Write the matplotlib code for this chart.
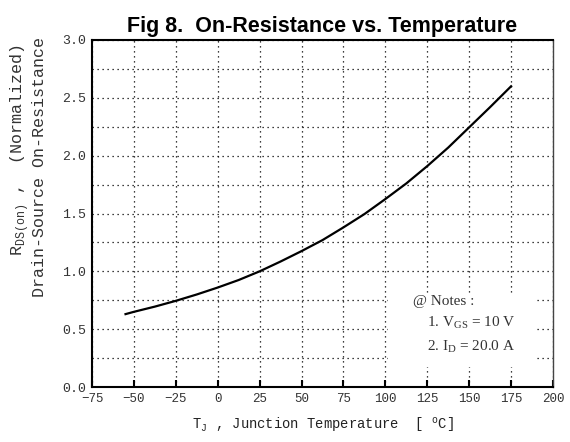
import matplotlib.pyplot as plt
from matplotlib.patches import Rectangle

# Junction temperature (C) and normalized on-resistance
temp = [-55, -50, -37.5, -25, -12.5, 0, 12.5, 25, 37.5, 50, 62.5, 75,
        87.5, 100, 112.5, 125, 137.5, 150, 162.5, 175]
rds = [0.63, 0.65, 0.695, 0.745, 0.80, 0.86, 0.925, 1.0, 1.085, 1.175, 1.27, 1.38,
       1.495, 1.625, 1.76, 1.91, 2.07, 2.245, 2.42, 2.60]

x_ticks = [-75, -50, -25, 0, 25, 50, 75, 100, 125, 150, 175, 200]
y_ticks = [0.0, 0.5, 1.0, 1.5, 2.0, 2.5, 3.0]
y_grid = [0.25, 0.75, 1.25, 1.75, 2.25, 2.75]

mono = "Liberation Mono"
serif = "Liberation Serif"

fig = plt.figure(figsize=(5.70, 4.42), dpi=100)
ax = fig.add_axes([92 / 570, 1 - 387 / 442, 461 / 570, 347 / 442])

ax.plot(temp, rds, color="black", linewidth=1.6, zorder=3)

ax.set_xlim(-75, 200)
ax.set_ylim(0, 3.0)
ax.set_xticks(x_ticks)
ax.set_yticks(y_ticks)
ax.set_yticks(y_grid, minor=True)
ax.grid(True, which="both", color="black", linestyle=(0, (1, 3)), linewidth=0.9)
ax.tick_params(axis="x", direction="in", length=5, width=1.5, labelsize=9, pad=4)
ax.tick_params(axis="y", which="both", length=0, labelsize=9.5, pad=4)
for lab in ax.get_xticklabels() + ax.get_yticklabels():
    lab.set_fontfamily(mono)
    lab.set_color("#333333")
for side in ["left", "bottom", "top"]:
    ax.spines[side].set_linewidth(1.5)
ax.spines["right"].set_linewidth(1.0)
ax.spines["right"].set_color("#444444")

ax.set_title("Fig 8.  On-Resistance vs. Temperature", fontsize=15.5, fontweight="bold",
             fontfamily="Liberation Sans", pad=6)
ax.set_xlabel(r"T$_\mathregular{J}$ , Junction Temperature  [ $^\mathregular{o}$C]",
              fontsize=10, fontfamily=mono, color="#222222", labelpad=8)

# y label: two lines, not centred on the axes in the original
ylab_kw = dict(transform=ax.transAxes, rotation=90, ha="center", va="center",
               fontsize=12, fontfamily=mono, color="#333333")
ax.text(-0.158, 0.683, "R$_\\mathregular{DS(on)}$ ,  (Normalized)", **ylab_kw)
ax.text(-0.114, 0.634, "Drain-Source On-Resistance", **ylab_kw)

# white patch behind the notes hides the grid there
ax.add_patch(Rectangle((101.6, 0.173), 89, 0.64, facecolor="white",
                       edgecolor="none", zorder=2))
note_kw = dict(fontsize=11, fontfamily=serif, color="#333333", va="center",
               ha="left", zorder=4)
ax.text(116.5, 0.735, "@ Notes :", **note_kw)
ax.text(124.8, 0.56, "1. V$_\\mathregular{GS}$ = 10 V", **note_kw)
ax.text(124.8, 0.345, "2. I$_\\mathregular{D}$ = 20.0 A", **note_kw)

fig.savefig("out.png", dpi=100)
